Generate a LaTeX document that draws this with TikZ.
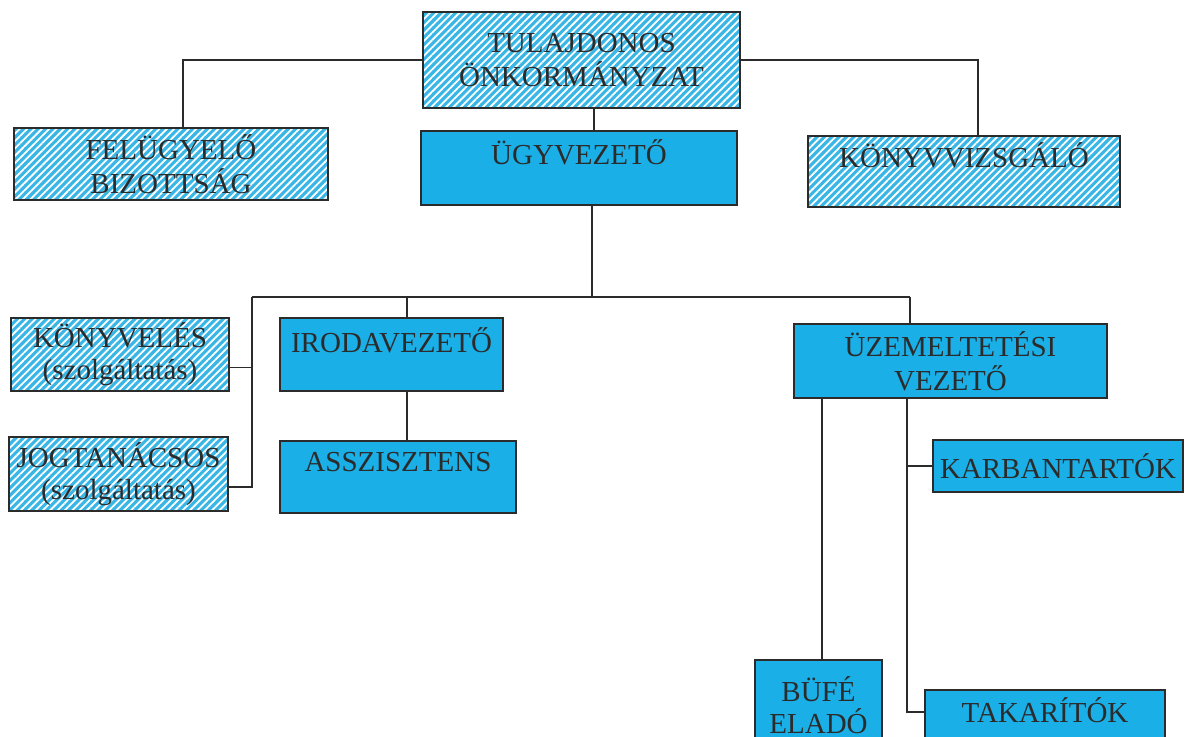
\documentclass[tikz,border=0pt]{standalone}
\usepackage{fontspec}
\setmainfont{Liberation Serif}
\usetikzlibrary{patterns.meta}
\definecolor{solidblue}{HTML}{1AAFE6}
\definecolor{hatchblue}{HTML}{39B6E6}
\definecolor{ink}{HTML}{2B2B2B}
\begin{document}
\begin{tikzpicture}[x=0.5pt,y=-0.5pt,
  base/.style={draw=ink, line width=0.6pt, text=ink, font=\fontsize{14.5}{17}\selectfont, align=center, inner sep=0pt},
  plainbox/.style={base, fill=solidblue},
  hatchbox/.style={base, preaction={fill=hatchblue}, pattern={Lines[angle=45,distance=2.6pt,line width=0.9pt]}, pattern color=white},
  liftby/.style={text height=9.5pt, text depth=#1},
  conn/.style={draw=ink, line width=0.75pt}
]
\useasboundingbox (0,0) rectangle (1192,737);
\clip (0,0) rectangle (1192,737);

\node[hatchbox, minimum width=158.5pt, minimum height=48pt] (tul) at (581.5,60) {TULAJDONOS\\ÖNKORMÁNYZAT};
\node[hatchbox, minimum width=157pt, minimum height=36pt] (fel) at (171,164) {FELÜGYELŐ\\BIZOTTSÁG};
\node[plainbox, minimum width=158pt, minimum height=37pt, liftby=13pt] (ugy) at (579,168) {ÜGYVEZETŐ};
\node[hatchbox, minimum width=156pt, minimum height=35.5pt, liftby=13.5pt] (konyvv) at (964,171.5) {KÖNYVVIZSGÁLÓ};

\node[hatchbox, minimum width=109pt, minimum height=36.5pt, font=\fontsize{14.5}{16}\selectfont] (konyvel) at (120,354.5) {KÖNYVELÉS\\(szolgáltatás)};
\node[plainbox, minimum width=111.5pt, minimum height=36.5pt, liftby=11.5pt] (iroda) at (391.5,354.5) {IRODAVEZETŐ};
\node[plainbox, minimum width=156.5pt, minimum height=37pt] (uzem) at (950.5,361) {ÜZEMELTETÉSI\\VEZETŐ};

\node[hatchbox, minimum width=109.5pt, minimum height=37pt, font=\fontsize{14.5}{16}\selectfont] (jog) at (118.5,474) {JOGTANÁCSOS\\(szolgáltatás)};
\node[plainbox, minimum width=118pt, minimum height=36pt, liftby=15pt] (assz) at (398,477) {ASSZISZTENS};
\node[plainbox, minimum width=125pt, minimum height=26pt] (karb) at (1058,466) {KARBANTARTÓK};

\node[plainbox, minimum width=63.5pt, minimum height=45pt, font=\fontsize{14.5}{16}\selectfont] (bufe) at (818.5,705) {BÜFÉ\\ELADÓ};
\node[plainbox, minimum width=120pt, minimum height=30pt, liftby=7pt] (tak) at (1045,720) {TAKARÍTÓK};

% top level connectors
\draw[conn] (tul.west) -| ([xshift=6pt]fel.north);
\draw[conn] (tul.east) -| ([xshift=7pt]konyvv.north);
\draw[conn] ([xshift=6.25pt]tul.south) -- ([xshift=6.25pt]tul.south |- ugy.north);

% bus
\coordinate (bus) at (592,297);
\coordinate (busL) at (252,297);
\coordinate (busR) at (910,297);
\coordinate (busI) at (407,297);
\coordinate (ut) at (907,400);
\draw[conn] (bus |- ugy.south) -- (bus);
\draw[conn] (busL) -- (busR);
\draw[conn] (busR) -- (busR |- uzem.north);
\draw[conn] (busI) -- (busI |- iroda.north);
\draw[conn] (busL) |- ([yshift=-6.5pt]jog.east);
\draw[conn] ([yshift=-6.5pt]konyvel.east) -- ([yshift=-6.5pt]konyvel.east -| busL);
\draw[conn] (busI |- iroda.south) -- (busI |- assz.north);

% operations branch
\draw[conn] ([xshift=1.75pt]bufe.north |- uzem.south) -- ([xshift=1.75pt]bufe.north);
\draw[conn] (uzem.south -| ut) |- ([yshift=4pt]tak.west);
\draw[conn] (karb.west -| ut) -- (karb.west);
\end{tikzpicture}
\end{document}
